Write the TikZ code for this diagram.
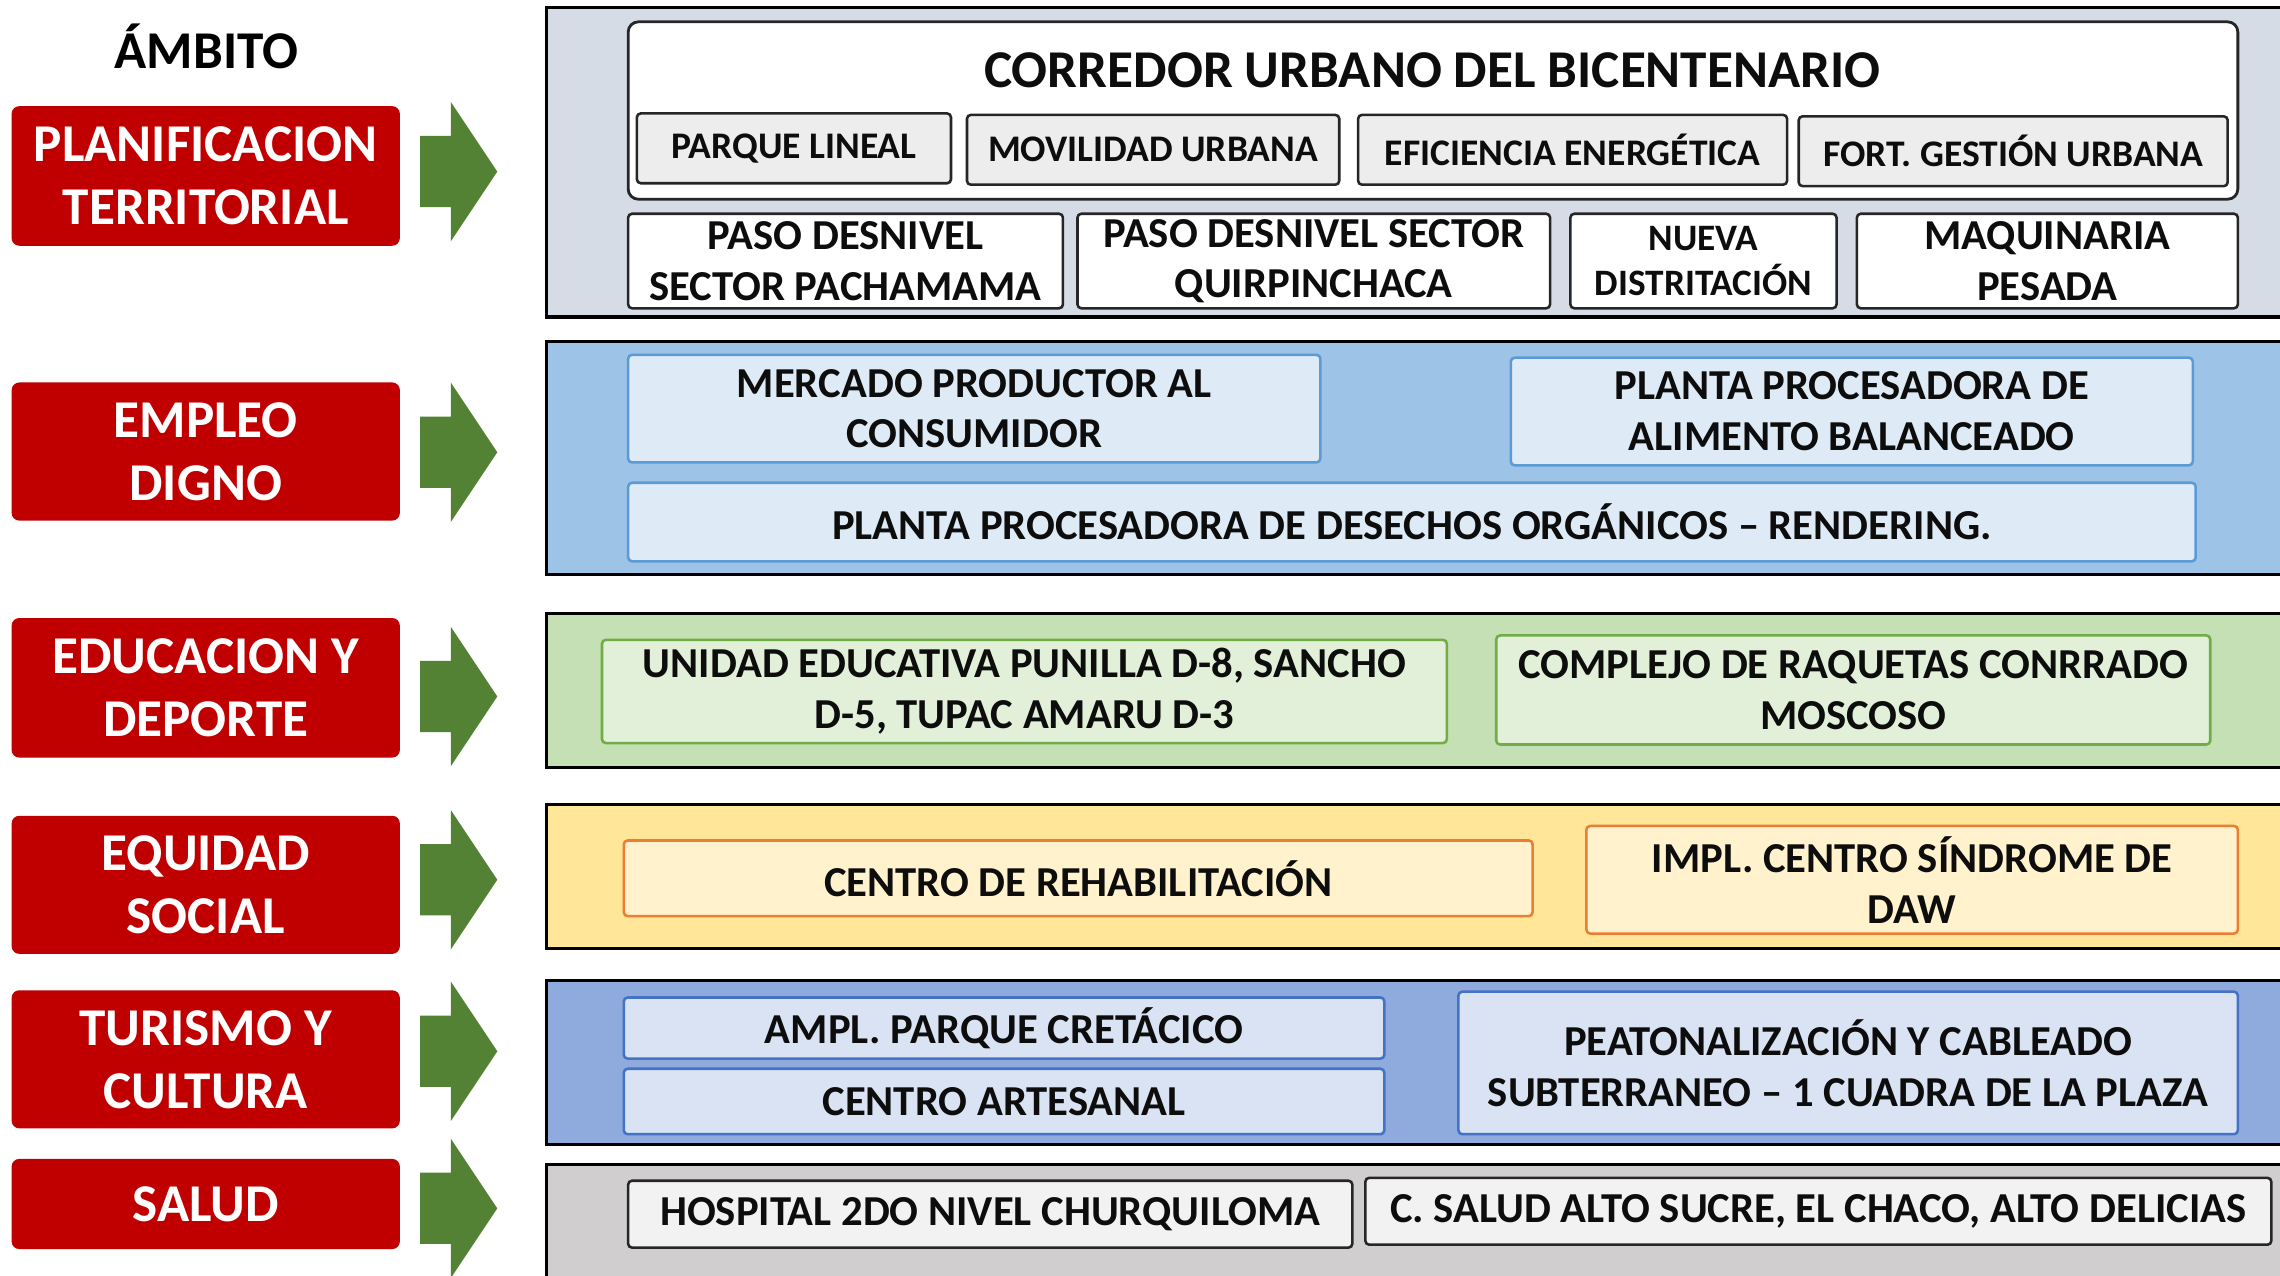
\documentclass[tikz,border=0pt]{standalone}
\usepackage{fontspec}
\setmainfont{Carlito}
\definecolor{redbox}{HTML}{C00000}
\definecolor{arrowgreen}{HTML}{548235}
\definecolor{pone}{HTML}{D6DCE5}
\definecolor{ptwo}{HTML}{9DC3E6}
\definecolor{pthree}{HTML}{C5E0B4}
\definecolor{pfour}{HTML}{FFE699}
\definecolor{pfive}{HTML}{8FAADC}
\definecolor{psix}{HTML}{D0CECE}
\definecolor{grayfill}{HTML}{EDEDED}
\definecolor{btwofill}{HTML}{DEEBF7}
\definecolor{btwoline}{HTML}{5B9BD5}
\definecolor{bthreefill}{HTML}{E2F0D9}
\definecolor{bthreeline}{HTML}{70AD47}
\definecolor{bfourfill}{HTML}{FFF2CC}
\definecolor{bfourline}{HTML}{ED7D31}
\definecolor{bfivefill}{HTML}{DAE3F3}
\definecolor{bfiveline}{HTML}{4472C4}
\definecolor{bsixfill}{HTML}{F2F2F2}
\definecolor{txt}{HTML}{0D0D0D}
\newcommand\mybox[7]{\node[#2, minimum width={(#5-#3)*0.02cm}, minimum height={(#6-#4)*0.02cm}] (#1) at ({(#3+#5)/2},{(#4+#6)/2}) {#7};}
\newcommand\myarrow[2]{%
  \coordinate (#1) at (342,#2);
  \fill[arrowgreen] (289,#2-24.5) -- (310,#2-24.5) -- (310,#2-48) -- (342,#2) -- (310,#2+48) -- (310,#2+24.5) -- (289,#2+24.5) -- cycle;}
\tikzset{
  every node/.style={inner sep=0pt, outer sep=0pt, align=center, text=txt, font=\bfseries},
  redlbl/.style={fill=redbox, rounded corners=3pt, text=white, font=\fontsize{20.8pt}{24.7pt}\selectfont\bfseries},
  panel/.style={draw=black, line width=1.2pt},
  grbox/.style={fill=grayfill, draw=black!85, line width=1pt, rounded corners=1.5pt, font=\fontsize{14.7pt}{17.6pt}\selectfont\bfseries},
  whbox/.style={fill=white, draw=black!85, line width=1pt, rounded corners=1.5pt, font=\fontsize{16.7pt}{19.8pt}\selectfont\bfseries},
  btwo/.style={fill=btwofill, draw=btwoline, line width=1pt, rounded corners=1.5pt, font=\fontsize{16.7pt}{19.9pt}\selectfont\bfseries},
  bthree/.style={fill=bthreefill, draw=bthreeline, line width=1pt, rounded corners=1.5pt, font=\fontsize{16.7pt}{19.9pt}\selectfont\bfseries},
  bfour/.style={fill=bfourfill, draw=bfourline, line width=1pt, rounded corners=1.5pt, font=\fontsize{16.7pt}{19.9pt}\selectfont\bfseries},
  bfive/.style={fill=bfivefill, draw=bfiveline, line width=1pt, rounded corners=1.5pt, font=\fontsize{16.7pt}{19.9pt}\selectfont\bfseries},
  bsix/.style={fill=bsixfill, draw=black!85, line width=1pt, rounded corners=1.5pt, font=\fontsize{16.7pt}{19.9pt}\selectfont\bfseries},
}
\begin{document}
\begin{tikzpicture}[x=0.02cm, y=-0.02cm]
\useasboundingbox (0,0) rectangle (1568,877);
\clip (0,0) rectangle (1568,877);
\fill[white] (0,0) rectangle (1568,877);

% heading
\node[font=\fontsize{20.8pt}{24pt}\selectfont\bfseries, text=black] (ambito) at (142,32) {ÁMBITO};

% red labels
\mybox{l1}{redlbl}{8}{73}{275}{169}{PLANIFICACION\\TERRITORIAL}
\mybox{l2}{redlbl}{8}{263}{275}{358}{EMPLEO\\DIGNO}
\mybox{l3}{redlbl}{8}{425}{275}{521}{EDUCACION Y\\DEPORTE}
\mybox{l4}{redlbl}{8}{561}{275}{656}{EQUIDAD\\SOCIAL}
\mybox{l5}{redlbl}{8}{681}{275}{776}{TURISMO Y\\CULTURA}
\mybox{l6}{redlbl}{8}{797}{275}{859}{SALUD}

% arrows
\myarrow{a1}{118}
\myarrow{a2}{311}
\myarrow{a3}{479}
\myarrow{a4}{605}
\myarrow{a5}{723}
\myarrow{a6}{831}

% panels
\filldraw[panel, fill=pone] (376,5) rectangle (1580,218);
\filldraw[panel, fill=ptwo] (376,235) rectangle (1580,395);
\filldraw[panel, fill=pthree] (376,422) rectangle (1580,528);
\filldraw[panel, fill=pfour] (376,553) rectangle (1580,652);
\filldraw[panel, fill=pfive] (376,674) rectangle (1580,787);
\filldraw[panel, fill=psix] (376,801) rectangle (1580,900);

% panel 1
\mybox{corr}{fill=white, draw=black!85, line width=1.1pt, rounded corners=4pt}{432}{15}{1539}{137}{}
\node[font=\fontsize{20.8pt}{24pt}\selectfont\bfseries] (corrt) at (985,48) {CORREDOR URBANO DEL BICENTENARIO};
\mybox{g1}{grbox}{438}{78}{654}{126}{PARQUE LINEAL}
\mybox{g2}{grbox}{665}{79}{921}{127}{MOVILIDAD URBANA}
\mybox{g3}{grbox}{934}{79}{1229}{127}{EFICIENCIA ENERGÉTICA}
\mybox{g4}{grbox}{1237}{80}{1532}{128}{FORT. GESTIÓN URBANA}
\mybox{w1}{whbox}{432}{147}{731}{212}{PASO DESNIVEL\\SECTOR PACHAMAMA}
\mybox{w2}{whbox}{741}{147}{1066}{212}{PASO DESNIVEL SECTOR\\QUIRPINCHACA}
\mybox{w3}{whbox, font=\fontsize{14.6pt}{17.8pt}\selectfont\bfseries}{1080}{147}{1263}{212}{NUEVA\\DISTRITACIÓN}
\mybox{w4}{whbox}{1277}{147}{1539}{212}{MAQUINARIA\\PESADA}

% panel 2
\mybox{e1}{btwo}{432}{244}{908}{318}{MERCADO PRODUCTOR AL\\CONSUMIDOR}
\mybox{e2}{btwo}{1039}{246}{1508}{320}{PLANTA PROCESADORA DE\\ALIMENTO BALANCEADO}
\mybox{e3}{btwo}{432}{332}{1510}{386}{PLANTA PROCESADORA DE DESECHOS ORGÁNICOS – RENDERING.}

% panel 3
\mybox{d1}{bthree}{414}{440}{995}{511}{UNIDAD EDUCATIVA PUNILLA D-8, SANCHO\\D-5, TUPAC AMARU D-3}
\mybox{d2}{bthree}{1029}{437}{1520}{512}{COMPLEJO DE RAQUETAS CONRRADO\\MOSCOSO}

% panel 4
\mybox{s1}{bfour}{429}{578}{1054}{630}{CENTRO DE REHABILITACIÓN}
\mybox{s2}{bfour}{1091}{568}{1539}{642}{IMPL. CENTRO SÍNDROME DE\\DAW}

% panel 5
\mybox{t1}{bfive}{429}{686}{952}{728}{AMPL. PARQUE CRETÁCICO}
\mybox{t2}{bfive}{429}{735}{952}{780}{CENTRO ARTESANAL}
\mybox{t3}{bfive}{1003}{682}{1539}{780}{PEATONALIZACIÓN Y CABLEADO\\SUBTERRANEO – 1 CUADRA DE LA PLAZA}

% panel 6
\mybox{h1}{bsix}{432}{812}{930}{858}{HOSPITAL 2DO NIVEL CHURQUILOMA}
\mybox{h2}{bsix}{939}{810}{1562}{856}{C. SALUD ALTO SUCRE, EL CHACO, ALTO DELICIAS}
\end{tikzpicture}
\end{document}
